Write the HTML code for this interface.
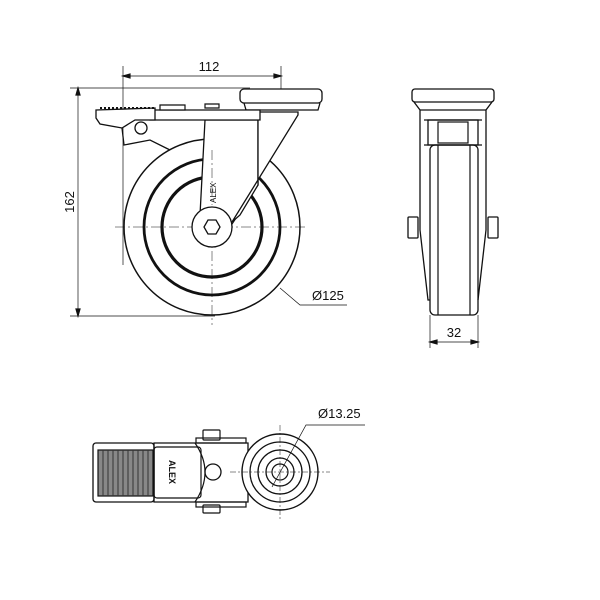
<!DOCTYPE html>
<html><head><style>body{margin:0;background:#fff}svg{display:block}</style></head><body>
<svg width="600" height="600" viewBox="0 0 600 600" xmlns="http://www.w3.org/2000/svg" font-family="Liberation Sans, sans-serif">
<g fill="none" stroke="#111" stroke-width="1.2">
<!-- dimension 112 -->
<line x1="123" y1="66" x2="123" y2="265" stroke-width="0.7"/>
<line x1="281" y1="66" x2="281" y2="100" stroke-width="0.7"/>
<line x1="123" y1="76" x2="281" y2="76" stroke-width="0.7"/>
<path d="M123 76 l7 -2 v4 z M281 76 l-7 -2 v4 z" fill="#111"/>
<!-- dimension 162 -->
<line x1="70" y1="88" x2="250" y2="88" stroke-width="0.7"/>
<line x1="70" y1="316" x2="215" y2="316" stroke-width="0.7"/>
<line x1="78" y1="88" x2="78" y2="316" stroke-width="0.7"/>
<path d="M78 88 l-2 7 h4 z M78 316 l-2 -7 h4 z" fill="#111"/>
<!-- wheel -->
<circle cx="212" cy="227" r="88" stroke-width="1.5"/>
<circle cx="212" cy="227" r="68" stroke-width="2.8"/>
<circle cx="212" cy="227" r="50" stroke-width="3.2"/>
<line x1="115" y1="227" x2="305" y2="227" stroke-width="0.5" stroke-dasharray="10,3,2,3"/>
<line x1="212" y1="125" x2="212" y2="325" stroke-width="0.5" stroke-dasharray="10,3,2,3"/>
<!-- fork -->
<path d="M205 120 L258 120 L258 185 L230 227 L222 238 L205 235 L200 215 Z" fill="#fff" stroke-width="1.3"/>
<path d="M258 112 L258 185 L240 215 L232 222 L298 115 L298 112 Z" fill="#fff" stroke-width="1.3"/>
<circle cx="212" cy="227" r="20" fill="#fff" stroke-width="1.3"/>
<polygon points="220,227 216,234 208,234 204,227 208,220 216,220" stroke-width="1.3" fill="#fff"/>
<line x1="212" y1="150" x2="212" y2="205" stroke-width="0.5" stroke-dasharray="10,3,2,3"/>
<text x="216" y="203" font-size="8" stroke="none" fill="#111" transform="rotate(-90 216 203)">ALEX</text>
<!-- top plate -->
<rect x="240" y="89" width="82" height="14" rx="4" stroke-width="1.3" fill="#fff"/>
<path d="M244 103 L246 110 L318 110 L320 103" stroke-width="1.3"/>
<!-- fork top & brake pedal -->
<path d="M150 110 L260 110 L260 120 L150 120 Z" fill="#fff" stroke-width="1.3"/>
<path d="M96 110 L155 108 L155 120 L135 120 L122 128 L100 124 L96 118 Z" fill="#fff" stroke-width="1.3"/>
<path d="M100 108 h55" stroke-dasharray="2,2" stroke-width="2"/>
<circle cx="141" cy="128" r="6" fill="#fff" stroke-width="1.3"/>
<path d="M122 128 L124 145 L150 140 L170 150" stroke-width="1.3"/>
<path d="M160 110 h25 v-5 h-25 z M205 108 h14 v-4 h-14 z" fill="#fff"/>
<!-- Ø125 -->
<path d="M280 288 L300 305 L347 305" stroke-width="0.7"/>
<text x="312" y="300" font-size="13" stroke="none" fill="#111">Ø125</text>
<text x="209" y="71" font-size="13" stroke="none" fill="#111" text-anchor="middle">112</text>
<text x="74" y="202" font-size="13" stroke="none" fill="#111" text-anchor="middle" transform="rotate(-90 74 202)">162</text>

<!-- side view -->
<rect x="412" y="89" width="82" height="13" rx="3" stroke-width="1.3"/>
<path d="M414 102 L420 110 L420 230 L428 300 L430 300 M492 102 L486 110 L486 230 L478 300" stroke-width="1.3"/>
<path d="M420 110 h66 M424 120 h58 M424 145 h58"/>
<rect x="428" y="120" width="50" height="25" stroke-width="1.3"/>
<rect x="438" y="122" width="30" height="21"/>
<rect x="430" y="145" width="48" height="170" rx="5" stroke-width="1.3"/>
<line x1="438" y1="145" x2="438" y2="315"/>
<line x1="470" y1="145" x2="470" y2="315"/>
<rect x="408" y="217" width="10" height="21" rx="1" stroke-width="1.3"/>
<rect x="488" y="217" width="10" height="21" rx="1" stroke-width="1.3"/>
<line x1="430" y1="315" x2="430" y2="348" stroke-width="0.7"/>
<line x1="478" y1="315" x2="478" y2="348" stroke-width="0.7"/>
<line x1="430" y1="342" x2="478" y2="342" stroke-width="0.7"/>
<path d="M430 342 l7 -2 v4 z M478 342 l-7 -2 v4 z" fill="#111"/>
<text x="454" y="337" font-size="13" stroke="none" fill="#111" text-anchor="middle">32</text>

<!-- bottom view -->
<rect x="93" y="443" width="61" height="59" rx="3" stroke-width="1.3"/>
<rect x="98" y="450" width="55" height="46" fill="#888"/>
<g stroke="#333" stroke-width="1">
<line x1="103" y1="450" x2="103" y2="496"/><line x1="108" y1="450" x2="108" y2="496"/><line x1="113" y1="450" x2="113" y2="496"/><line x1="118" y1="450" x2="118" y2="496"/><line x1="123" y1="450" x2="123" y2="496"/><line x1="128" y1="450" x2="128" y2="496"/><line x1="133" y1="450" x2="133" y2="496"/><line x1="138" y1="450" x2="138" y2="496"/><line x1="143" y1="450" x2="143" y2="496"/><line x1="148" y1="450" x2="148" y2="496"/>
</g>
<path d="M154 443 L248 443 L248 502 L154 502 Z" stroke-width="1.3"/>
<rect x="154" y="447" width="47" height="51" rx="3"/>
<text x="169" y="472" font-size="9" font-weight="bold" stroke="none" fill="#111" text-anchor="middle" transform="rotate(90 169 472)">ALEX</text>
<path d="M195 443 Q215 472 195 502" />
<rect x="196" y="438" width="50" height="5"/><rect x="196" y="502" width="50" height="5"/>
<rect x="203" y="430" width="17" height="10" rx="1"/><rect x="203" y="505" width="17" height="8" rx="1"/>
<circle cx="213" cy="472" r="8" stroke-width="1.3"/>
<circle cx="280" cy="472" r="38" fill="#fff" stroke-width="1.4"/>
<circle cx="280" cy="472" r="30" stroke-width="1.3"/>
<circle cx="280" cy="472" r="22" stroke-width="1.3"/>
<circle cx="280" cy="472" r="14" stroke-width="1.3"/>
<circle cx="280" cy="472" r="8"/>
<line x1="230" y1="472" x2="330" y2="472" stroke-width="0.5" stroke-dasharray="6,2,2,2"/>
<line x1="280" y1="425" x2="280" y2="520" stroke-width="0.5" stroke-dasharray="6,2,2,2"/>
<path d="M272 487 L306 425 L365 425" stroke-width="0.7"/>
<text x="318" y="418" font-size="13" stroke="none" fill="#111">Ø13.25</text>
</g>
</svg>
</body></html>
